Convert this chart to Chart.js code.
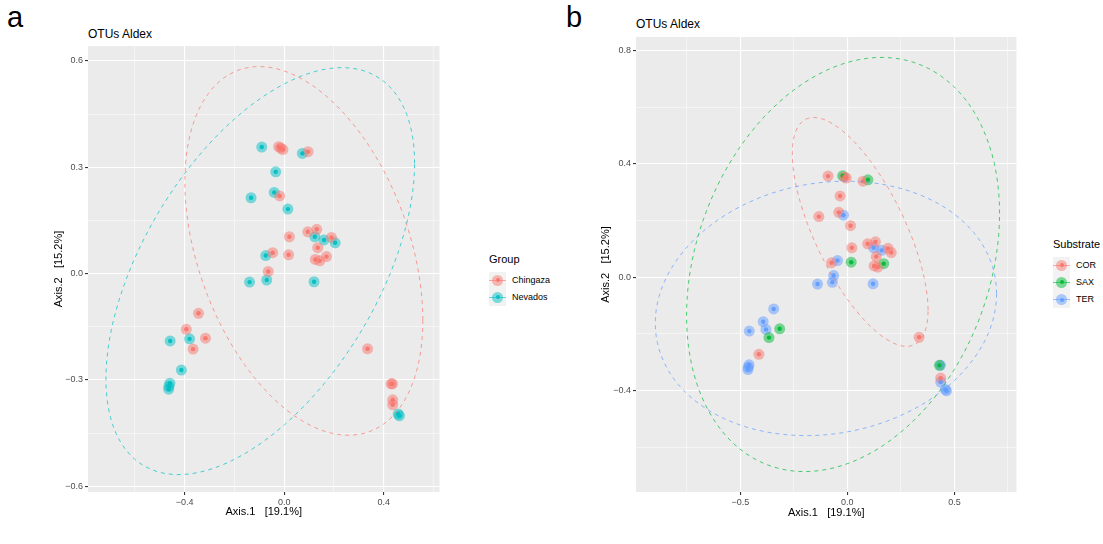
<!DOCTYPE html>
<html>
<head>
<meta charset="utf-8">
<script src="https://cdn.jsdelivr.net/npm/chart.js@4/dist/chart.umd.min.js"></script>
<style>
  body { margin: 0; width: 1103px; height: 544px; background: #fff; position: relative; overflow: hidden;
         font-family: "Liberation Sans", Arial, sans-serif; color: #000; }
  .abs { position: absolute; white-space: nowrap; }
  .tag { font-size: 29px; line-height: 29px; }
  .ttl { font-size: 12px; line-height: 12px; }
  .lgt { font-size: 11px; line-height: 11px; }
  .lgi { font-size: 9px; line-height: 9px; }
  .key { position: absolute; width: 17px; height: 17px; background: #F2F2F2; }
  .key .ln { position: absolute; left: 0; width: 17px; top: 8px; height: 1px; }
  .key .halo { position: absolute; left: 3px; top: 3px; width: 11px; height: 11px; border-radius: 50%; }
  .key .dot { position: absolute; left: 6.5px; top: 6.5px; width: 4px; height: 4px; border-radius: 50%; }
  canvas { position: absolute; top: 0; }
</style>
</head>
<body>
<div class="abs tag" style="left:7px;top:3px;">a</div>
<div class="abs tag" style="left:566px;top:3px;">b</div>
<div class="abs ttl" style="left:88px;top:28px;">OTUs Aldex</div>
<div class="abs ttl" style="left:636px;top:18px;">OTUs Aldex</div>
<canvas id="panel-a" width="445" height="544" style="left:0px;"></canvas>
<canvas id="panel-b" width="462" height="544" style="left:560px;"></canvas>
<div id="legend-a"></div>
<div id="legend-b"></div>

<script>
// PCoA coordinates of the 46 samples
var axis1 = [-0.09, -0.022, -0.014, -0.005, 0.073, 0.096, -0.034, -0.04, -0.018, -0.133,
             0.015, 0.095, 0.131, 0.021, 0.19, 0.123, 0.16, 0.205, 0.135, -0.046,
             -0.074, 0.018, 0.125, 0.143, 0.17, -0.064, -0.139, -0.07, 0.12, -0.344,
             -0.393, -0.316, -0.366, -0.38, -0.458, -0.413, -0.459, -0.463, -0.464, 0.335,
             0.43, 0.435, 0.436, 0.436, 0.458, 0.463];
var axis2 = [0.357, 0.358, 0.354, 0.35, 0.339, 0.344, 0.287, 0.229, 0.219, 0.214,
             0.182, 0.118, 0.125, 0.104, 0.102, 0.104, 0.095, 0.087, 0.073, 0.059,
             0.051, 0.053, 0.04, 0.036, 0.048, 0.006, -0.024, -0.018, -0.023, -0.112,
             -0.157, -0.182, -0.213, -0.184, -0.19, -0.272, -0.309, -0.318, -0.326, -0.212,
             -0.311, -0.311, -0.356, -0.37, -0.396, -0.401];
var group = ['Nevados','Chingaza','Chingaza','Chingaza','Nevados','Chingaza','Nevados','Nevados','Chingaza','Nevados',
             'Nevados','Chingaza','Chingaza','Chingaza','Chingaza','Nevados','Nevados','Nevados','Chingaza','Chingaza',
             'Nevados','Chingaza','Chingaza','Chingaza','Chingaza','Chingaza','Nevados','Nevados','Nevados','Chingaza',
             'Chingaza','Chingaza','Chingaza','Nevados','Nevados','Nevados','Nevados','Nevados','Nevados','Chingaza',
             'Chingaza','Chingaza','Chingaza','Chingaza','Nevados','Nevados'];
var substrate = ['COR','SAX','COR','COR','COR','SAX','COR','COR','TER','COR',
                 'COR','COR','COR','COR','COR','TER','TER','COR','COR','TER',
                 'COR','SAX','COR','COR','SAX','TER','TER','TER','TER','TER',
                 'TER','SAX','SAX','TER','TER','COR','TER','TER','TER','COR',
                 'SAX','TER','COR','TER','TER','TER'];

var groupLevels = ['Chingaza', 'Nevados'];
var substrateLevels = ['COR', 'SAX', 'TER'];

// ellipses: centre, point of largest Axis.1, highest Axis.2
var groupEllipseCentre = [[0.079, 0.064], [-0.096, 0.007]];
var groupEllipseRight  = [[0.557, -0.131], [0.524, 0.311]];
var groupEllipseTop    = [0.584, 0.581];
var substrateEllipseCentre = [[0.06, 0.16], [-0.02, 0.045], [-0.1, -0.11]];
var substrateEllipseRight  = [[0.377, -0.116], [0.711, 0.225], [0.697, -0.058]];
var substrateEllipseTop    = [0.564, 0.776, 0.339];

// axis ticks
var xMajorA = [-0.4, 0, 0.4],        xMinorA = [-0.6, -0.2, 0.2, 0.6];
var yMajorA = [-0.6, -0.3, 0, 0.3, 0.6], yMinorA = [-0.45, -0.15, 0.15, 0.45];
var xMajorB = [-0.5, 0, 0.5],        xMinorB = [-0.75, -0.25, 0.25, 0.75];
var yMajorB = [-0.4, 0, 0.4, 0.8],   yMinorB = [-0.6, -0.2, 0.2, 0.6];

var colorsA = ['248,118,109', '0,191,196'];
var colorsB = ['248,118,109', '0,186,56', '97,156,255'];

function isIn(list, v) {
  return list.some(function (m) { return Math.abs(m - v) < 1e-9; });
}

function buildDatasets(levels, labels, colors) {
  var sets = [];
  levels.forEach(function (lev, i) {
    var pts = [];
    for (var k = 0; k < axis1.length; k++) {
      if (labels[k] === lev) pts.push({x: axis1[k], y: axis2[k]});
    }
    sets.push({label: lev, data: pts, pointRadius: 5.5, borderWidth: 0,
               backgroundColor: 'rgba(' + colors[i] + ',0.5)', order: 2});
    sets.push({label: lev + ' core', data: pts, pointRadius: 2.2, borderWidth: 0,
               backgroundColor: 'rgba(' + colors[i] + ',0.95)', order: 1});
  });
  return sets;
}

function ellipsePlugin(centres, rights, tops, colors) {
  return {
    id: 'ellipses',
    afterDatasetsDraw: function (chart) {
      var ctx = chart.ctx, sx = chart.scales.x, sy = chart.scales.y;
      ctx.save();
      ctx.setLineDash([4, 4]);
      ctx.lineWidth = 1;
      centres.forEach(function (c, i) {
        var ux = rights[i][0] - c[0], uy = rights[i][1] - c[1];
        var h = tops[i] - c[1];
        var vy = Math.sqrt(h * h - uy * uy);
        ctx.strokeStyle = 'rgba(' + colors[i] + ',0.7)';
        ctx.beginPath();
        for (var s = 0; s <= 120; s++) {
          var t = s / 120 * Math.PI * 2;
          var px = sx.getPixelForValue(c[0] + ux * Math.cos(t));
          var py = sy.getPixelForValue(c[1] + uy * Math.cos(t) + vy * Math.sin(t));
          if (s === 0) ctx.moveTo(px, py); else ctx.lineTo(px, py);
        }
        ctx.stroke();
      });
      ctx.restore();
    }
  };
}

var panelBg = {
  id: 'panelBg',
  beforeDraw: function (chart) {
    var a = chart.chartArea, ctx = chart.ctx;
    ctx.save();
    ctx.fillStyle = '#EBEBEB';
    ctx.fillRect(a.left, a.top, a.right - a.left, a.bottom - a.top);
    ctx.restore();
  }
};

function axis(min, max, major, minor, title, titlePad, size, horizontal) {
  var all = major.concat(minor).sort(function (p, q) { return p - q; });
  return {
    type: 'linear', min: min, max: max,
    afterBuildTicks: function (s) { s.ticks = all.map(function (v) { return {value: v}; }); },
    afterFit: function (s) { if (horizontal) s.height = size; else s.width = size; },
    border: {display: false},
    grid: {
      color: '#FFFFFF',
      lineWidth: function (c) { return isIn(major, c.tick.value) ? 1.1 : 0.5; },
      tickColor: function (c) { return isIn(major, c.tick.value) ? '#333333' : 'rgba(0,0,0,0)'; },
      tickLength: 3
    },
    ticks: {
      autoSkip: false, maxRotation: 0, padding: 2, color: '#4D4D4D',
      font: {family: '"Liberation Sans", Arial, sans-serif', size: 9},
      callback: function (v) { return isIn(major, v) ? v.toFixed(1).replace('-', '\u2212') : ''; }
    },
    title: {
      display: true, text: title, color: '#000',
      font: {family: '"Liberation Sans", Arial, sans-serif', size: 11},
      padding: horizontal ? {top: 0, bottom: titlePad} : {top: titlePad, bottom: 0}
    }
  };
}

function makeChart(id, datasets, plugins, pad, xs, ys) {
  return new Chart(document.getElementById(id), {
    type: 'scatter',
    data: {datasets: datasets},
    options: {
      responsive: false, animation: false, devicePixelRatio: 1,
      layout: {padding: pad},
      plugins: {legend: {display: false}, tooltip: {enabled: false}},
      scales: {x: xs, y: ys}
    },
    plugins: plugins
  });
}

makeChart('panel-a', buildDatasets(groupLevels, group, colorsA),
  [panelBg, ellipsePlugin(groupEllipseCentre, groupEllipseRight, groupEllipseTop, colorsA)],
  {top: 46, right: 4, bottom: 0, left: 0},
  axis(-0.788, 0.624, xMajorA, xMinorA, 'Axis.1   [19.1%]', 25.4, 52, true),
  axis(-0.616, 0.642, yMajorA, yMinorA, 'Axis.2   [15.2%]', 52.4, 88, false));

makeChart('panel-b', buildDatasets(substrateLevels, substrate, colorsB),
  [panelBg, ellipsePlugin(substrateEllipseCentre, substrateEllipseRight, substrateEllipseTop, colorsB)],
  {top: 37, right: 4, bottom: 0, left: 0},
  axis(-0.987, 0.79, xMajorB, xMinorB, 'Axis.1   [19.1%]', 24.4, 52, true),
  axis(-0.758, 0.848, yMajorB, yMinorB, 'Axis.2   [15.2%]', 39.4, 76, false));

// legends
function legend(boxId, title, levels, colors, left, titleTop, firstKeyTop) {
  var box = document.getElementById(boxId);
  var html = '<div class="abs lgt" style="left:' + left + 'px;top:' + titleTop + 'px;">' + title + '</div>';
  levels.forEach(function (lev, i) {
    var top = firstKeyTop + i * 17.4;
    var c = colors[i];
    html += '<div class="key" style="left:' + left + 'px;top:' + top + 'px;">' +
      '<div class="ln" style="background:rgba(' + c + ',0.6)"></div>' +
      '<div class="halo" style="background:rgba(' + c + ',0.5)"></div>' +
      '<div class="dot" style="background:rgba(' + c + ',0.95)"></div></div>';
    html += '<div class="abs lgi" style="left:' + (left + 23) + 'px;top:' + (top + 4) + 'px;">' + lev + '</div>';
  });
  box.innerHTML = html;
}
legend('legend-a', 'Group', groupLevels, colorsA, 489, 254, 271.5);
legend('legend-b', 'Substrate', substrateLevels, colorsB, 1053, 239, 256.5);
</script>
</body>
</html>
